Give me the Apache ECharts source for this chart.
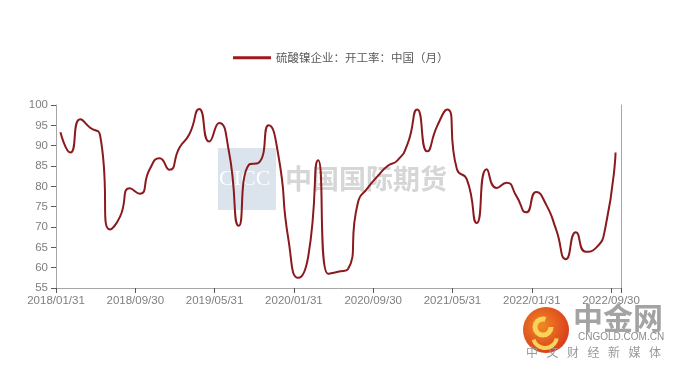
<!DOCTYPE html>
<html>
<head>
<meta charset="utf-8">
<script src="https://cdn.jsdelivr.net/npm/echarts@6/dist/echarts.min.js"></script>
<style>html,body{margin:0;padding:0;background:#fff}#c{width:680px;height:368px}</style>
</head>
<body>
<div id="c"></div>
<script>
// ---- data ----
const seriesName = '硫酸镍企业：开工率：中国（月）';
const tickLabels = ['2018/01/31','2018/09/30','2019/05/31','2020/01/31','2020/09/30','2021/05/31','2022/01/31','2022/09/30'];
const values2018 = [93.3, 88.3, 96.5, 94.4, 92.5, 69.4, 72.5, 79.5, 78.2, 84.2, 86.9, 84.1];
const values2019 = [89.5, 92.8, 99.0, 91.0, 95.6, 88.5, 70.3, 85.3, 85.8, 95.0, 87.4, 66.9];
const values2020 = [57.5, 62.8, 86.4, 58.5, 59.0, 59.6, 75.9, 79.6, 82.5, 85.0, 86.4, 90.3];
const values2021 = [98.9, 88.6, 94.8, 98.9, 84.2, 81.7, 71.0, 84.2, 79.6, 80.9, 77.6, 73.6];
const values2022 = [78.6, 75.5, 69.4, 62.1, 68.7, 63.9, 64.8, 70.2, 88.3];

const values = [].concat(values2018, values2019, values2020, values2021, values2022);
const monthOffset = 0.45; // monthly points sit a bit after the month-end tick
const data = values.map((v, i) => [i + monthOffset, v]);

const chart = echarts.init(document.getElementById('c'), null, {renderer: 'canvas'});
const axisGrey = '#a6a6a6';
const labelGrey = '#7f7f7f';

const cnChars = ['中','文','财','经','新','媒','体'];
const graphics = [
  { type: 'rect', z: 0, shape: {x: 218, y: 148, width: 58, height: 62}, style: {fill: '#dbe3ed'} },
  { type: 'text', z: 0, x: 219, y: 179, style: {text: 'CICC', font: '22px "Liberation Serif", serif', fill: '#ffffff', verticalAlign: 'middle'} },
  { type: 'text', z: 0, x: 285, y: 179, style: {text: '中国国际期货', font: 'bold 27px "Noto Sans CJK SC"', fill: '#d6d6d6', verticalAlign: 'middle'} },
  { type: 'circle', z: 100, shape: {cx: 546, cy: 330, r: 23}, style: {fill: new echarts.graphic.RadialGradient(0.4, 0.4, 0.7, [{offset: 0, color: '#f08a24'}, {offset: 1, color: '#d8341c'}])} },
  { type: 'arc', z: 101, shape: {cx: 543, cy: 327, r: 8, startAngle: 0, endAngle: Math.PI * 1.6}, style: {stroke: '#f7d35a', lineWidth: 5, fill: null} },
  { type: 'arc', z: 101, shape: {cx: 545, cy: 336, r: 12, startAngle: 0.2, endAngle: Math.PI * 0.9}, style: {stroke: '#f7d35a', lineWidth: 4, fill: null} },
  { type: 'text', z: 100, x: 573, y: 318, style: {text: '中金网', font: 'bold 30px "Noto Sans CJK SC"', fill: '#a3a3a3', verticalAlign: 'middle'} },
  { type: 'text', z: 100, x: 578, y: 337, style: {text: 'CNGOLD.COM.CN', font: '10px "Liberation Sans", sans-serif', fill: '#8c8c8c', verticalAlign: 'middle'} }
];
cnChars.forEach((ch, k) => {
  graphics.push({ type: 'text', z: 100, x: 526 + k * 20.5, y: 352, style: {text: ch, font: '12px "Noto Sans CJK SC"', fill: '#9a9a9a', verticalAlign: 'middle'} });
});

chart.setOption({
  animation: false,
  backgroundColor: '#ffffff',
  legend: {
    left: 228, top: 47,
    itemWidth: 38, itemHeight: 3, itemGap: 10,
    icon: 'rect',
    textStyle: {fontFamily: '"Noto Sans CJK SC"', fontSize: 11.5, color: '#595959'},
    data: [seriesName]
  },
  grid: {left: 56, right: 59, top: 105, bottom: 80},
  xAxis: {
    type: 'value', min: 0, max: 57, interval: 8,
    axisLine: {lineStyle: {color: axisGrey, width: 1}},
    axisTick: {show: true, length: 5, lineStyle: {color: '#595959'}},
    splitLine: {show: false},
    axisLabel: {
      color: labelGrey, fontSize: 11.5, margin: 7,
      fontFamily: '"Liberation Sans", Arial, sans-serif',
      formatter: v => (v % 8 === 0 && tickLabels[v / 8]) ? tickLabels[v / 8] : ''
    }
  },
  yAxis: [{
    type: 'value', min: 55, max: 100, interval: 5,
    axisLine: {show: true, lineStyle: {color: axisGrey}},
    axisTick: {show: true, length: 5, lineStyle: {color: '#595959'}},
    splitLine: {show: false},
    axisLabel: {color: labelGrey, fontSize: 11.5, margin: 8, fontFamily: '"Liberation Sans", Arial, sans-serif'}
  }, {
    type: 'value', min: 55, max: 100, interval: 5, position: 'right',
    axisLine: {show: true, lineStyle: {color: axisGrey}},
    axisTick: {show: false}, axisLabel: {show: false}, splitLine: {show: false}
  }],
  series: [{
    name: seriesName, type: 'line', data: data,
    smooth: 0.6, showSymbol: false, symbol: 'none',
    lineStyle: {color: '#8b1a1e', width: 2},
    itemStyle: {color: '#9e1a20'},
    z: 10
  }],
  graphic: graphics
});
</script>
</body>
</html>
